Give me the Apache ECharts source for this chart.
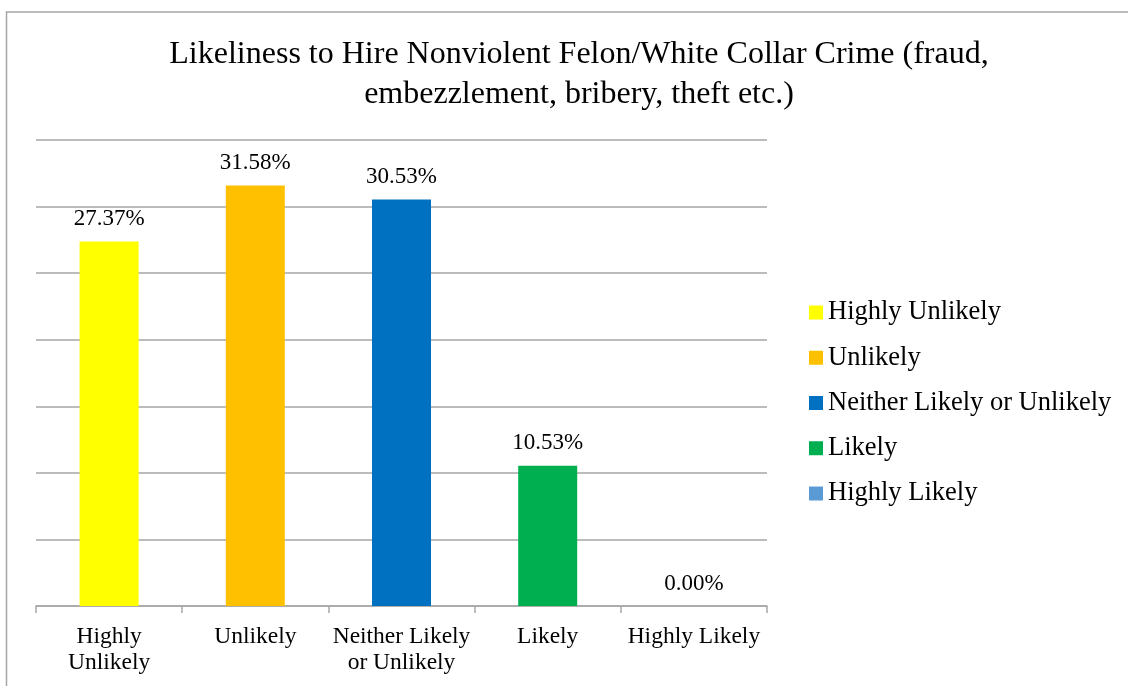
<!DOCTYPE html>
<html>
<head>
<meta charset="utf-8">
<script src="https://cdn.jsdelivr.net/npm/echarts@6/dist/echarts.min.js"></script>
<style>
  html, body { margin: 0; padding: 0; background: #fff; }
  #chart { width: 1128px; height: 686px; }
</style>
</head>
<body>
<div id="chart"></div>
<script>
// Survey responses: likeliness to hire a nonviolent / white-collar felon
const categories = ['Highly Unlikely', 'Unlikely', 'Neither Likely or Unlikely', 'Likely', 'Highly Likely'];
const axisLabels = ['Highly\nUnlikely', 'Unlikely', 'Neither Likely\nor Unlikely', 'Likely', 'Highly Likely'];
const percentages = [27.37, 31.58, 30.53, 10.53, 0.00];
const colors = ['#ffff00', '#ffc000', '#0070c0', '#00b050', '#5b9bd5'];
const yTicks = [0, 5, 10, 15, 20, 25, 30, 35];

const FONT = '"Liberation Serif", "Times New Roman", serif';
const GRAY = '#a6a6a6';

// One series per response so each gets its own legend entry; stacking keeps bars centred.
const series = categories.map((name, i) => ({
  name: name,
  type: 'bar',
  stack: 'all',
  barWidth: 59,
  itemStyle: { color: colors[i] },
  data: percentages.map((v, j) => (j === i ? v : '-')),
  label: {
    show: true,
    position: 'top',
    distance: 11,
    formatter: p => Number(p.value).toFixed(2) + '%',
    fontFamily: FONT,
    fontSize: 23,
    color: '#000'
  }
}));

const chart = echarts.init(document.getElementById('chart'), null, { renderer: 'canvas' });
chart.setOption({
  animation: false,
  backgroundColor: '#fff',
  title: {
    text: 'Likeliness to Hire Nonviolent Felon/White Collar Crime (fraud,\nembezzlement, bribery, theft etc.)',
    left: 574,
    top: 30,
    textAlign: 'center',
    textStyle: { fontFamily: FONT, fontSize: 32, fontWeight: 'normal', lineHeight: 40, color: '#000' }
  },
  legend: {
    orient: 'vertical',
    left: 804,
    top: 294,
    itemWidth: 14,
    itemHeight: 14,
    itemGap: 18.25,
    icon: 'rect',
    textStyle: { fontFamily: FONT, fontSize: 26.5, lineHeight: 26, color: '#000' },
    data: categories
  },
  grid: { left: 36, right: 361, top: 140, bottom: 80, containLabel: false },
  xAxis: {
    type: 'category',
    data: categories,
    axisLine: { lineStyle: { color: GRAY, width: 1.5 } },
    axisTick: { show: true, length: 7, lineStyle: { color: GRAY, width: 1.5 } },
    axisLabel: {
      interval: 0,
      margin: 18,
      fontFamily: FONT,
      fontSize: 23.5,
      lineHeight: 26,
      color: '#000',
      formatter: (v, i) => axisLabels[i]
    }
  },
  yAxis: {
    type: 'value',
    min: yTicks[0],
    max: yTicks[yTicks.length - 1],
    interval: yTicks[1] - yTicks[0],
    axisLabel: { show: false },
    axisLine: { show: false },
    axisTick: { show: false },
    splitLine: { lineStyle: { color: GRAY, width: 1.5 } }
  },
  graphic: [{
    type: 'rect',
    silent: true,
    shape: { x: 6.5, y: 12, width: 1300, height: 900 },
    style: { fill: 'none', stroke: GRAY, lineWidth: 1.5 }
  }],
  series: series
});
</script>
</body>
</html>
